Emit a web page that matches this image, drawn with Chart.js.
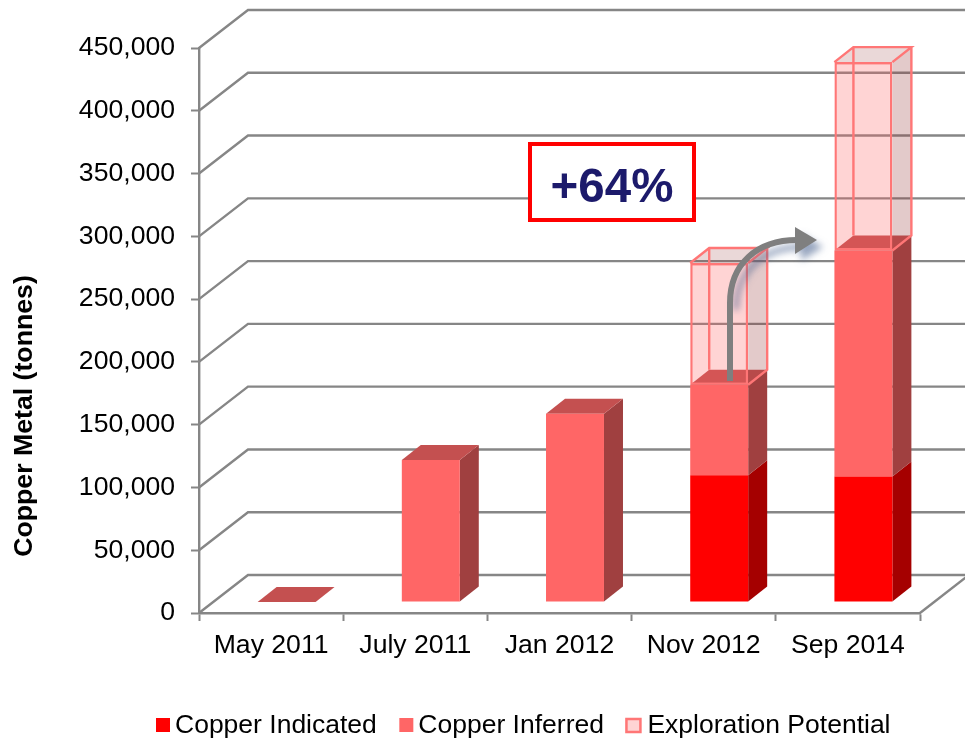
<!DOCTYPE html>
<html>
<head>
<meta charset="utf-8">
<title>Copper Metal</title>
<script src="https://cdn.jsdelivr.net/npm/chart.js@4"></script>
<style>
  html, body { margin: 0; padding: 0; background: #fff; }
  canvas { display: block; }
</style>
</head>
<body>
<canvas id="copper" width="965" height="738"></canvas>
<script>
var categories = ["May 2011", "July 2011", "Jan 2012", "Nov 2012", "Sep 2014"];
var indicated = [0, 0, 0, 101000, 100000];
var inferred = [0, 113000, 150000, 72000, 180000];
var exploration = [null, null, null, 97000, 150000];

var font = "'Liberation Sans', Arial, sans-serif";
var axisColor = "#868686";
// fake 3D: wall depth, bar depth, and how far the bars sit in from the axis
var wallDx = 49, wallDy = 38;
var barDx = 19, barDy = 15;
var shiftX = 15.5, shiftY = -11;

function side(ctx, el, fill) {
  var x = el.x + el.width / 2 + shiftX;
  var t = el.y + shiftY, b = el.base + shiftY;
  ctx.fillStyle = fill;
  ctx.beginPath();
  ctx.moveTo(x, t);
  ctx.lineTo(x + barDx, t - barDy);
  ctx.lineTo(x + barDx, b - barDy);
  ctx.lineTo(x, b);
  ctx.closePath();
  ctx.fill();
}

function topFace(ctx, el, fill) {
  var l = el.x - el.width / 2 + shiftX, r = el.x + el.width / 2 + shiftX;
  var t = el.y + shiftY;
  ctx.fillStyle = fill;
  ctx.beginPath();
  ctx.moveTo(l, t);
  ctx.lineTo(l + barDx, t - barDy);
  ctx.lineTo(r + barDx, t - barDy);
  ctx.lineTo(r, t);
  ctx.closePath();
  ctx.fill();
}

var walls3d = {
  id: "walls3d",
  beforeDatasetsDraw: function (chart) {
    var ctx = chart.ctx, y = chart.scales.y, a = chart.chartArea;
    ctx.save();
    ctx.strokeStyle = axisColor;
    ctx.lineWidth = 2.4;
    y.ticks.forEach(function (t) {
      var py = y.getPixelForValue(t.value);
      ctx.beginPath();
      ctx.moveTo(a.left, py);
      ctx.lineTo(a.left + wallDx, py - wallDy);
      ctx.lineTo(chart.width, py - wallDy);
      ctx.stroke();
    });
    ctx.beginPath();
    ctx.moveTo(a.right, a.bottom);
    ctx.lineTo(a.right + wallDx, a.bottom - wallDy);
    ctx.stroke();

    // solid bars: sides and top behind the fronts
    chart.getDatasetMeta(0).data.forEach(function (el) {
      if (el.base - el.y > 0) side(ctx, el, "#a50000");
    });
    chart.getDatasetMeta(1).data.forEach(function (el) {
      if (el.base - el.y > 0) side(ctx, el, "#a04040");
      topFace(ctx, el, "#c45050");
    });
    ctx.restore();

    ctx.save();
    ctx.translate(shiftX, shiftY);
  },
  afterDatasetsDraw: function (chart) {
    var ctx = chart.ctx;
    ctx.restore();
    ctx.save();
    // glass boxes for exploration potential
    chart.getDatasetMeta(2).data.forEach(function (el, i) {
      if (exploration[i] === null) return;
      var l = el.x - el.width / 2 + shiftX, r = el.x + el.width / 2 + shiftX;
      var t = el.y + shiftY, b = el.base + shiftY;
      side(ctx, el, "rgba(150,60,60,0.27)");
      topFace(ctx, el, "rgba(150,60,60,0.2)");
      ctx.strokeStyle = "#ff7676";
      ctx.lineWidth = 2.4;
      ctx.beginPath();
      ctx.moveTo(l, t);
      ctx.lineTo(l + barDx, t - barDy);
      ctx.lineTo(r + barDx, t - barDy);
      ctx.lineTo(r, t);
      ctx.moveTo(r + barDx, t - barDy);
      ctx.lineTo(r + barDx, b - barDy);
      ctx.lineTo(r, b);
      ctx.moveTo(l + barDx, t - barDy);
      ctx.lineTo(l + barDx, b - barDy);
      ctx.stroke();
    });
    ctx.restore();
  },
  afterDraw: function (chart) {
    var ctx = chart.ctx;
    ctx.save();

    // curved arrow, only the upper bend casts the blue shadow
    ctx.strokeStyle = "#7f7f7f";
    ctx.fillStyle = "#7f7f7f";
    ctx.lineWidth = 6;
    ctx.shadowColor = "rgba(70,95,140,0.55)";
    ctx.shadowBlur = 7;
    ctx.shadowOffsetX = 6;
    ctx.shadowOffsetY = 7;
    ctx.beginPath();
    ctx.moveTo(730, 303);
    ctx.bezierCurveTo(730, 264, 757, 240, 797, 240);
    ctx.stroke();
    ctx.beginPath();
    ctx.moveTo(795, 227);
    ctx.lineTo(817, 240);
    ctx.lineTo(795, 254);
    ctx.closePath();
    ctx.fill();
    ctx.shadowColor = "transparent";
    ctx.beginPath();
    ctx.moveTo(730, 381);
    ctx.lineTo(730, 302);
    ctx.stroke();

    // callout
    ctx.fillStyle = "#fff";
    ctx.fillRect(530, 144, 164, 76);
    ctx.strokeStyle = "#ff0000";
    ctx.lineWidth = 4;
    ctx.strokeRect(530, 144, 164, 76);
    ctx.fillStyle = "#1c1a6b";
    ctx.font = "bold 47.5px " + font;
    ctx.textAlign = "center";
    ctx.textBaseline = "alphabetic";
    ctx.fillText("+64%", 612, 202);

    // axis title sits lower than the scale's own centre
    ctx.save();
    ctx.translate(32, 416);
    ctx.rotate(-Math.PI / 2);
    ctx.fillStyle = "#000";
    ctx.font = "bold 26.7px " + font;
    ctx.fillText("Copper Metal (tonnes)", 0, 0);
    ctx.restore();

    // legend, tighter box/text gap than the built-in one
    ctx.font = "26.5px " + font;
    ctx.textAlign = "left";
    var x = 156;
    chart.data.datasets.forEach(function (ds) {
      if (ds.borderWidth) {
        ctx.fillStyle = ds.backgroundColor;
        ctx.fillRect(x, 719, 14, 13);
        ctx.strokeStyle = ds.borderColor;
        ctx.lineWidth = 2.5;
        ctx.strokeRect(x, 719, 14, 13);
        x += 2;
      } else {
        ctx.fillStyle = ds.backgroundColor;
        ctx.fillRect(x, 718, 14, 14);
      }
      ctx.fillStyle = "#000";
      ctx.fillText(ds.label, x + 19, 733);
      x += 19 + ctx.measureText(ds.label).width + 22.5;
    });
    ctx.restore();
  }
};

new Chart("copper", {
  type: "bar",
  data: {
    labels: categories,
    datasets: [
      { label: "Copper Indicated", data: indicated, backgroundColor: "#ff0000", clip: false },
      { label: "Copper Inferred", data: inferred, backgroundColor: "#ff6666", clip: false },
      {
        label: "Exploration Potential",
        data: exploration,
        backgroundColor: "rgba(255,102,102,0.28)",
        borderColor: "#ff7676",
        borderWidth: 2.4,
        borderSkipped: false,
        clip: false
      }
    ]
  },
  options: {
    responsive: false,
    animation: false,
    layout: { padding: { top: 48, right: 45 } },
    categoryPercentage: 1,
    barPercentage: 0.402,
    plugins: {
      legend: { display: false },
      tooltip: { enabled: false }
    },
    scales: {
      x: {
        stacked: true,
        border: { color: axisColor, width: 2.4 },
        grid: { drawOnChartArea: false, color: axisColor, tickLength: 8, tickWidth: 2 },
        ticks: {
          color: "#000",
          font: { family: font, size: 26.6 },
          maxRotation: 0,
          autoSkip: false,
          padding: 9
        },
        afterFit: function (scale) { scale.height = 125; }
      },
      y: {
        stacked: true,
        min: 0,
        max: 450000,
        border: { color: axisColor, width: 2.4 },
        grid: { drawOnChartArea: false, color: axisColor, tickLength: 8, tickWidth: 2 },
        ticks: {
          stepSize: 50000,
          color: "#000",
          font: { family: font, size: 26.6 },
          padding: 16,
          callback: function (v) { return v.toLocaleString("en-US"); }
        },
        afterFit: function (scale) { scale.width = 199; }
      }
    }
  },
  plugins: [walls3d]
});
</script>
</body>
</html>
